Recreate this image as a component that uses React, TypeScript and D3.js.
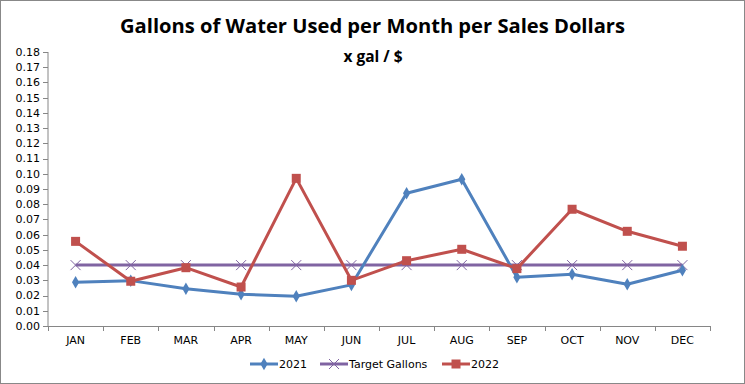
import React from "react";
import { scaleLinear, scaleBand, line, range, symbol, symbolDiamond } from "d3";

const months = ["JAN", "FEB", "MAR", "APR", "MAY", "JUN", "JUL", "AUG", "SEP", "OCT", "NOV", "DEC"];
const values2021 = [0.0287, 0.0298, 0.0245, 0.0208, 0.0195, 0.027, 0.0872, 0.0964, 0.032, 0.034, 0.0274, 0.0366];
const target = [0.04, 0.04, 0.04, 0.04, 0.04, 0.04, 0.04, 0.04, 0.04, 0.04, 0.04, 0.04];
const values2022 = [0.0556, 0.0294, 0.0383, 0.0256, 0.097, 0.03, 0.0429, 0.0504, 0.0377, 0.0767, 0.0622, 0.0524];
const yTicks = range(0, 0.1801, 0.01);

const W = 745;
const H = 384;
const left = 48;
const right = 710;
const top = 52;
const bottom = 326;

const blue = "#4F81BD";
const purple = "#8064A2";
const red = "#C0504D";
const axisColor = "#868686";
const font = "'DejaVu Sans', Verdana, sans-serif";

const App = () => {
  const x = scaleBand<string>().domain(months).range([left, right]);
  const y = scaleLinear().domain([0, 0.18]).range([bottom, top]);
  const cx = (m: string) => (x(m) ?? 0) + x.bandwidth() / 2;

  const path = line<number>()
    .x((_, i) => cx(months[i]))
    .y((d) => y(d));

  const diamond = symbol().type(symbolDiamond).size(45)();

  const drawX = (px: number, py: number, s: number, key: string | number) => (
    <g key={key} stroke={purple} strokeWidth={1}>
      <line x1={px - s} y1={py - s} x2={px + s} y2={py + s} />
      <line x1={px - s} y1={py + s} x2={px + s} y2={py - s} />
    </g>
  );

  const legendY = 364;
  const legend = [
    { label: "2021", color: blue, x0: 250, kind: "d" },
    { label: "Target Gallons", color: purple, x0: 320, kind: "x" },
    { label: "2022", color: red, x0: 442, kind: "s" },
  ];

  return (
    <svg width={W} height={H} style={{ display: "block", position: "absolute", left: 0, top: 0 }}>
      <rect x={0.5} y={0.5} width={W - 1} height={H - 1} fill="#fff" stroke="#888" />
      <text
        x={372.5}
        y={33}
        textAnchor="middle"
        fontFamily="'Open Sans', sans-serif"
        fontWeight="bold"
        fontSize={20}
        textLength={505}
        lengthAdjust="spacingAndGlyphs"
      >
        Gallons of Water Used per Month per Sales Dollars
      </text>
      <text x={373} y={62} textAnchor="middle" fontFamily="'Open Sans', sans-serif" fontWeight="bold" fontSize={15.5}>
        x gal / $
      </text>

      {/* y axis */}
      <line x1={left} y1={top} x2={left} y2={bottom} stroke={axisColor} />
      {yTicks.map((t) => (
        <g key={t}>
          <line x1={left - 5} x2={left} y1={Math.round(y(t)) + 0.5} y2={Math.round(y(t)) + 0.5} stroke={axisColor} />
          <text x={left - 8} y={y(t)} dy="0.35em" textAnchor="end" fontFamily={font} fontSize={11} fill="#000">
            {t.toFixed(2)}
          </text>
        </g>
      ))}

      {/* x axis */}
      <line x1={left} y1={bottom + 0.5} x2={right} y2={bottom + 0.5} stroke={axisColor} />
      {[...months.map((m) => x(m) ?? 0), right].map((px, i) => (
        <line key={i} x1={Math.round(px) + 0.5} x2={Math.round(px) + 0.5} y1={bottom} y2={bottom + 5} stroke={axisColor} />
      ))}
      {months.map((m) => (
        <text key={m} x={cx(m)} y={344} textAnchor="middle" fontFamily={font} fontSize={11}>
          {m}
        </text>
      ))}

      {/* target */}
      <path d={path(target) ?? ""} fill="none" stroke={purple} strokeWidth={3} />
      {target.map((v, i) => drawX(cx(months[i]), y(v), 5, "t" + i))}

      {/* 2021 */}
      <path d={path(values2021) ?? ""} fill="none" stroke={blue} strokeWidth={3} strokeLinejoin="round" />
      {values2021.map((v, i) => (
        <path key={"a" + i} d={diamond ?? ""} transform={`translate(${cx(months[i])},${y(v)})`} fill={blue} />
      ))}

      {/* 2022 */}
      <path d={path(values2022) ?? ""} fill="none" stroke={red} strokeWidth={3} strokeLinejoin="round" />
      {values2022.map((v, i) => (
        <rect key={"b" + i} x={cx(months[i]) - 4.5} y={y(v) - 4.5} width={9} height={9} fill={red} />
      ))}

      {/* legend */}
      {legend.map((l) => (
        <g key={l.label}>
          <line x1={l.x0} x2={l.x0 + 28} y1={legendY} y2={legendY} stroke={l.color} strokeWidth={3} />
          {l.kind === "d" && <path d={diamond ?? ""} transform={`translate(${l.x0 + 14},${legendY})`} fill={l.color} />}
          {l.kind === "s" && <rect x={l.x0 + 9.5} y={legendY - 4.5} width={9} height={9} fill={l.color} />}
          {l.kind === "x" && drawX(l.x0 + 14, legendY, 5, "lx")}
          <text x={l.x0 + 29} y={legendY} dy="0.35em" fontFamily={font} fontSize={11}>
            {l.label}
          </text>
        </g>
      ))}
    </svg>
  );
};

export default App;
